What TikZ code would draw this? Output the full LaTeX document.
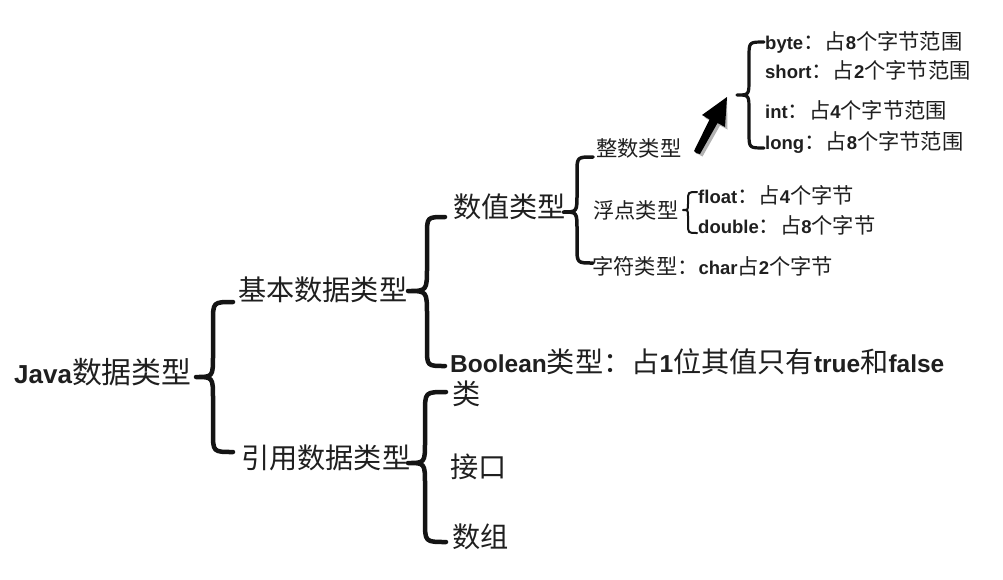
\documentclass[tikz,border=0pt]{standalone}
\usepackage{fontspec}
\setmainfont{Liberation Sans}
\newfontfamily\cjkfont[Scale=1.15]{Noto Sans CJK SC}
\newcommand\zhs[1]{{\cjkfont\mdseries #1}}
\newcommand\ens[1]{{\bfseries #1}}
\tikzset{
 lbl/.style={anchor=west, inner sep=0pt, text depth=0pt, text=black!88},
 big/.style={lbl, font=\fontsize{24.5}{28}\selectfont, text height=1.5em},
 small/.style={lbl, font=\fontsize{18.5}{22}\selectfont, text height=1.35em},
 root/.style={lbl, font=\fontsize{26}{30}\selectfont, text height=1.5em},
 bracestroke/.style={draw=black!92, line width=#1, line cap=round, line join=round},
 bracestroke/.default=4.5pt,
}
% #1 width, #2 tip x, #3 vertical x, #4 end x, #5 top y, #6 mid y, #7 bottom y
\newcommand\curlybr[7][4.5pt]{%
 \draw[bracestroke=#1] (#4,#5) .. controls (#3,#5) .. (#3,{#5+#4-#3})
   -- (#3,{#6-1.3*(#3-#2)}) .. controls (#3,#6) .. (#2,#6)
   .. controls (#3,#6) .. (#3,{#6+1.3*(#3-#2)})
   -- (#3,{#7-(#4-#3)}) .. controls (#3,#7) .. (#4,#7);}
\begin{document}
\begin{tikzpicture}[x=1pt,y=-1pt]
\path[use as bounding box, fill=white] (0,0) rectangle (1003,579);
% labels
\node[root] (java) at (14,376) {\ens{Java}\zhs{数据类型}};
\node[big] (jiben) at (238,293) {\zhs{基本数据类型}};
\node[big] (yinyong) at (241,461) {\zhs{引用数据类型}};
\node[big] (shuzhi) at (453,210) {\zhs{数值类型}};
\node[big] (bool) at (450,365) {\ens{Boolean}\zhs{类型：占}\ens{1}\zhs{位其值只有}\ens{true}\zhs{和}\ens{false}};
\node[big] (lei) at (452,397) {\zhs{类}};
\node[big] (jiekou) at (450,470) {\zhs{接口}};
\node[big] (shuzu) at (452,540) {\zhs{数组}};
\node[small] (zhengshu) at (596,150) {\zhs{整数类型}};
\node[small] (fudian) at (593,212) {\zhs{浮点类型}};
\node[small] (float) at (698,197) {\ens{float}\zhs{：占}\ens{4}\zhs{个字节}};
\node[small] (double) at (698,227) {\ens{double}\zhs{：占}\ens{8}\zhs{个字节}};
\node[small] (zifu) at (592,268) {\zhs{字符类型：}\ens{char}\zhs{占}\ens{2}\zhs{个字节}};
\node[small] (byte) at (765,43) {\ens{byte}\zhs{：占}\ens{8}\zhs{个字节范围}};
\node[small] (short) at (765,72) {\ens{short}\zhs{：占}\ens{2}\zhs{个字节范围}};
\node[small] (int) at (765,112) {\ens{int}\zhs{：占}\ens{4}\zhs{个字节范围}};
\node[small] (long) at (765,143) {\ens{long}\zhs{：占}\ens{8}\zhs{个字节范围}};
% braces
\curlybr{196}{213}{233}{302}{377}{452}
\curlybr{408}{427}{445}{217}{291}{366}
\curlybr{408}{425}{446}{392}{463}{542}
\curlybr[3.5pt]{563}{577}{593}{157}{212}{263}
\curlybr[2pt]{683}{688}{697}{192}{210}{233}
\curlybr[3.2pt]{737}{749}{764}{42}{95}{148}
% pointer arrow
\coordinate (atail) at (696,153);
\coordinate (atip) at (727,97);
\fill[black!30, shift={(2.5,2.5)}] (atail) -- (694,151) -- (709.5,119.5) -- (702,115) -- (atip) -- (725,127) -- (717.5,123) -- (700,154) -- cycle;
\fill[black] (atail) -- (694,151) -- (709.5,119.5) -- (702,115) -- (atip) -- (725,127) -- (717.5,123) -- (700,154) -- cycle;
\end{tikzpicture}
\end{document}
